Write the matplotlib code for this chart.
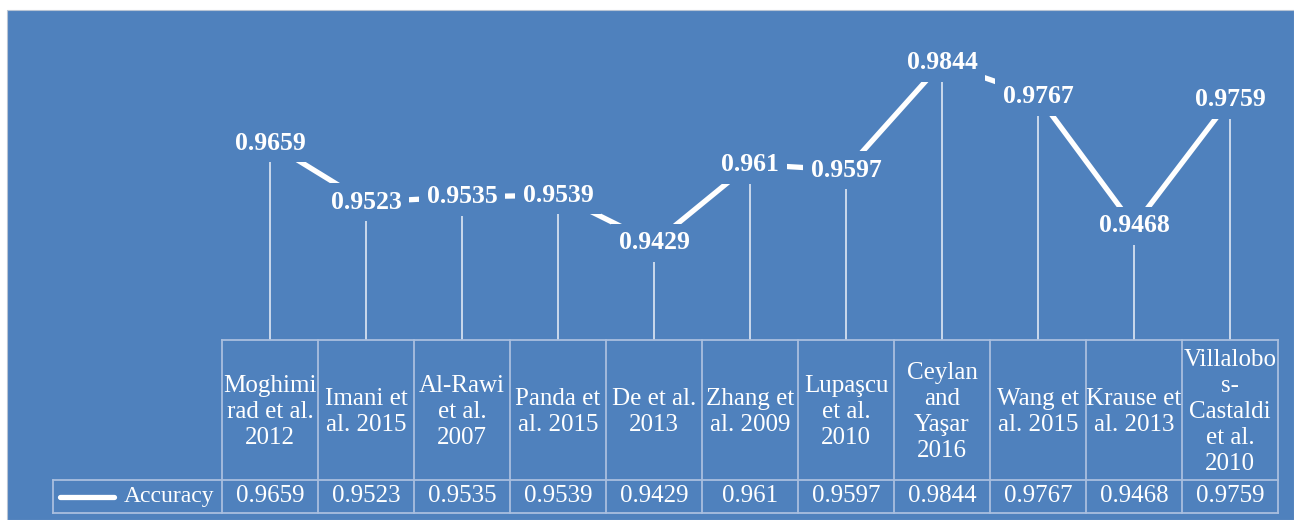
import matplotlib
matplotlib.use("Agg")
import matplotlib.pyplot as plt
from matplotlib.transforms import blended_transform_factory
from matplotlib.patches import Rectangle

plt.rcParams['font.family'] = ['Liberation Serif', 'DejaVu Serif']

categories = [
    "Moghimi\nrad et al.\n2012", "Imani et\nal. 2015", "Al-Rawi\net al.\n2007",
    "Panda et\nal. 2015", "De et al.\n2013", "Zhang et\nal. 2009",
    "Lupaşcu\net al.\n2010", "Ceylan\nand\nYaşar\n2016", "Wang et\nal. 2015",
    "Krause et\nal. 2013", "Villalobo\ns-\nCastaldi\net al.\n2010",
]
accuracy = [0.9659, 0.9523, 0.9535, 0.9539, 0.9429, 0.961, 0.9597,
            0.9844, 0.9767, 0.9468, 0.9759]
value_labels = ["0.9659", "0.9523", "0.9535", "0.9539", "0.9429", "0.961",
                "0.9597", "0.9844", "0.9767", "0.9468", "0.9759"]
series_name = "Accuracy"

BLUE = "#4F81BD"
GRID = "#A9BFDF"
W, H = 1294, 520

fig = plt.figure(figsize=(W / 100, H / 100), dpi=100, facecolor="white")

# blue panel
fig.patches.append(Rectangle((7 / W, 0), 1 - 7 / W, 1 - 10 / H, transform=fig.transFigure,
                             facecolor=BLUE, edgecolor="#B8C4D4", linewidth=0.8, zorder=-10))

def fy(p):
    return 1 - p / H

ax = fig.add_axes([222 / W, fy(340), (1278 - 222) / W, (340 - 10) / H])
ax.set_zorder(5)
ax.set_facecolor("none")
for s in ax.spines.values():
    s.set_visible(False)
ax.set_xticks([])
ax.set_yticks([])
n = len(categories)
xs = list(range(n))
ax.set_xlim(-0.5, n - 0.5)
ylo, yhi = 0.9205, 0.9966
ax.set_ylim(ylo, yhi)

FS = 18

# drop lines
ax.vlines(xs, ylo, accuracy, color="#D5E0EF", linewidth=1.3, zorder=1)
# main line
ax.plot(xs, accuracy, color="white", linewidth=3.8, solid_capstyle="butt", zorder=2)
# data labels
for x, v, t in zip(xs, accuracy, value_labels):
    ax.text(x, v, t, ha="center", va="center", color="white", fontsize=18.5,
            fontweight="bold", zorder=3,
            bbox=dict(boxstyle="square,pad=0.3", facecolor=BLUE, edgecolor="none"))

# table
tr = blended_transform_factory(ax.transData, fig.transFigure)
top, mid, bot = 340, 480, 513
leg_left = -0.5 - (222 - 53) / 96.0
lw = 1.3
ax.plot([-0.5, n - 0.5], [fy(top)] * 2, transform=tr, color=GRID, lw=lw, clip_on=False)
ax.plot([leg_left, n - 0.5], [fy(mid)] * 2, transform=tr, color=GRID, lw=lw, clip_on=False)
ax.plot([leg_left, n - 0.5], [fy(bot)] * 2, transform=tr, color=GRID, lw=lw, clip_on=False)
for b in range(n + 1):
    ax.plot([b - 0.5] * 2, [fy(top), fy(bot)], transform=tr, color=GRID, lw=lw, clip_on=False)
ax.plot([leg_left] * 2, [fy(mid), fy(bot)], transform=tr, color=GRID, lw=lw, clip_on=False)

for x, c, t in zip(xs, categories, value_labels):
    ax.text(x, fy((top + mid) / 2 + 2), c, transform=tr, ha="center", va="center",
            multialignment="center", color="white", fontsize=FS, linespacing=1.25,
            clip_on=False)
    ax.text(x, fy((mid + bot) / 2), t, transform=tr, ha="center", va="center",
            color="white", fontsize=FS, clip_on=False)

# legend key
ax.plot([-0.5 - (222 - 60) / 96.0, -0.5 - (222 - 114) / 96.0], [fy(497)] * 2,
        transform=tr, color="white", lw=3.8, clip_on=False, solid_capstyle="round")
ax.text(-0.5 - (222 - 214) / 96.0, fy((mid + bot) / 2), series_name, transform=tr,
        ha="right", va="center", color="white", fontsize=17, clip_on=False)

fig.savefig("out.png", dpi=100, facecolor="white")
